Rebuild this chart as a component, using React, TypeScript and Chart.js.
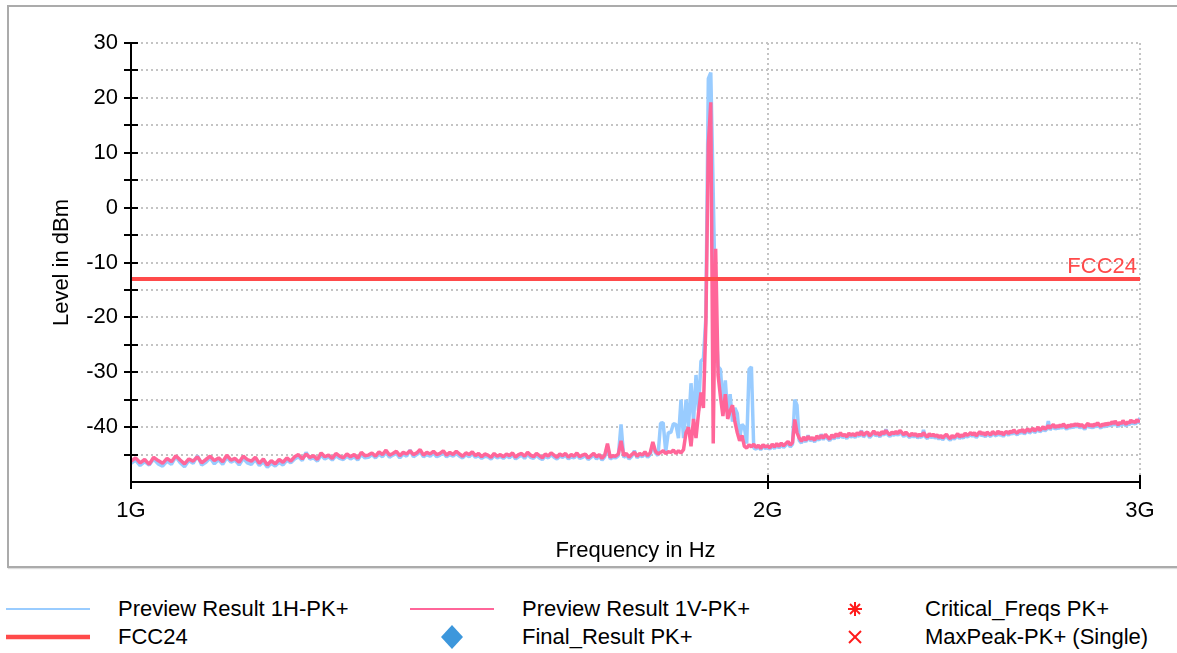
import { useEffect, useRef } from 'react';
import { Chart, registerables } from 'chart.js';

Chart.register(...registerables);

// Sweep definition (receiver sweep 1 GHz .. 3 GHz, 5 MHz step)
const sweepStartMHz = 1000;
const sweepStepMHz = 5;

// Axis ticks
const xTickValues = [1e9, 2e9, 3e9];
const xTickLabels = ['1G', '2G', '3G'];
const yLabelValues = [30, 20, 10, 0, -10, -20, -30, -40];

// Limit line
const limitName = 'FCC24';
const limitLevel = -13;
const limitFreqs = [1e9, 3e9];

// Preview Result 1V-PK+ (dBm), one value per sweep point
const preview1V = [
  -46.2,-45.6,-46.5,-45.9,-46.8,-45.5,-46.1,-46.6,-45.7,-46.3,-45.2,-46.0,-46.7,-45.8,-46.2,-45.4,-46.5,-45.9,-45.3,-46.1,
  -45.6,-46.3,-45.1,-46.0,-45.7,-46.4,-45.3,-45.9,-46.2,-45.5,-46.6,-45.8,-46.9,-46.1,-46.7,-45.9,-46.4,-45.6,-46.2,-45.4,
  -45.0,-45.8,-44.9,-45.5,-45.2,-45.9,-44.7,-45.4,-45.1,-45.7,-44.8,-45.3,-45.6,-44.9,-45.4,-45.0,-45.7,-44.6,-45.2,-45.1,
  -44.7,-45.3,-44.5,-45.0,-44.2,-45.1,-44.8,-44.4,-45.2,-44.6,-44.9,-44.3,-45.0,-44.7,-44.1,-45.1,-44.6,-44.9,-44.4,-45.0,
  -44.8,-44.3,-45.1,-44.6,-45.0,-44.4,-44.9,-45.3,-44.7,-45.0,-44.5,-45.2,-44.8,-45.4,-44.9,-45.1,-45.5,-44.8,-45.3,-45.0,
  -45.4,-44.9,-45.2,-44.7,-45.5,-45.0,-44.8,-45.3,-44.6,-45.1,-45.4,-44.8,-45.2,-45.6,-44.9,-45.3,-44.7,-45.1,-45.5,-44.9,
  -45.2,-44.8,-45.5,-45.0,-45.3,-44.7,-45.4,-45.1,-44.9,-45.6,-45.2,-44.8,-45.4,-45.0,-45.7,-45.1,-43.0,-45.5,-45.2,-45.3,
  -44.9,-42.5,-45.2,-44.8,-45.5,-45.0,-44.6,-45.3,-44.8,-45.1,-44.5,-45.2,-44.7,-42.7,-44.4,-44.9,-44.6,-44.3,-44.8,-44.5,
  -44.6,-44.2,-44.8,-44.3,-44.7,-44.1,-41.0,-40.0,-43.5,-38.5,-42.0,-37.5,-33.7,-36.5,-21.0,11.5,19.2,-43.0,-7.5,-30.5,
  -34.5,-38.0,-34.0,-38.5,-37.0,-36.0,-39.0,-41.0,-42.5,-41.5,-43.5,-43.8,-43.2,-43.6,-43.1,-43.7,-43.3,-43.9,-43.2,-43.6,
  -43.4,-43.8,-43.1,-43.6,-43.0,-43.5,-42.9,-43.4,-43.0,-42.6,-43.3,-42.8,-38.6,-41.0,-42.0,-42.6,-41.8,-42.4,-41.7,-42.2,
  -41.9,-42.4,-41.6,-42.1,-41.5,-42.0,-41.3,-41.8,-42.2,-41.4,-41.9,-41.2,-41.7,-41.0,-41.6,-41.3,-41.8,-41.1,-41.5,-41.2,
  -41.6,-41.0,-41.4,-40.8,-41.5,-41.1,-40.9,-41.6,-41.2,-40.7,-41.3,-41.0,-41.5,-40.8,-41.2,-40.6,-41.1,-41.4,-40.9,-41.2,
  -40.8,-41.2,-40.6,-41.0,-41.4,-40.9,-41.3,-41.6,-41.1,-41.5,-41.2,-41.7,-41.3,-41.6,-41.0,-41.5,-41.8,-41.2,-41.6,-41.3,
  -41.7,-41.4,-41.9,-41.5,-42.0,-41.6,-41.3,-41.8,-42.1,-41.5,-41.9,-41.6,-41.2,-41.8,-41.4,-41.7,-41.1,-41.5,-41.3,-41.0,
  -41.4,-41.0,-41.6,-41.2,-40.8,-41.3,-41.0,-41.5,-40.9,-41.2,-41.4,-40.8,-41.1,-41.3,-40.7,-41.2,-40.9,-41.4,-41.0,-40.8,
  -41.2,-40.7,-41.0,-40.5,-40.9,-41.1,-40.6,-40.8,-40.4,-41.0,-40.6,-40.3,-40.8,-40.5,-40.2,-40.7,-40.4,-40.0,-40.6,-40.3,
  -39.9,-40.4,-40.1,-39.7,-40.2,-39.8,-39.5,-40.1,-39.7,-40.0,-39.6,-39.9,-39.4,-39.8,-40.1,-39.6,-39.9,-39.5,-39.8,-39.4,
  -39.7,-39.4,-39.9,-39.5,-39.8,-40.1,-39.6,-39.3,-39.8,-39.5,-39.9,-39.4,-39.7,-39.2,-39.6,-39.9,-39.4,-39.7,-39.3,-39.6,
  -39.2,-39.5,-39.0,-39.4,-38.9,-39.3,-39.6,-39.1,-39.4,-38.8,-39.2,-39.5,-39.0,-39.3,-38.7,-39.1,-38.9,-39.2,-38.6,-39.0,
  -38.7,
];

// Preview Result 1H-PK+ (dBm), one value per sweep point
const preview1H = [
  -46.6,-46.0,-47.0,-46.3,-46.9,-45.8,-46.7,-47.1,-46.2,-46.8,-45.4,-46.5,-47.2,-46.1,-46.6,-45.2,-46.9,-46.4,-45.6,-46.7,
  -45.9,-46.8,-45.5,-46.4,-46.0,-46.9,-45.7,-46.5,-46.8,-45.9,-47.0,-46.3,-47.3,-46.6,-47.1,-46.4,-46.9,-46.0,-46.5,-45.8,
  -45.4,-46.1,-44.6,-45.8,-45.6,-46.2,-45.1,-45.8,-45.4,-46.0,-45.2,-45.7,-45.9,-45.3,-45.8,-45.4,-46.0,-45.0,-45.6,-45.5,
  -45.0,-45.6,-44.9,-45.4,-44.6,-45.5,-45.1,-44.8,-45.6,-44.9,-45.3,-44.2,-45.4,-45.0,-44.5,-45.4,-45.0,-45.3,-44.7,-45.4,
  -45.1,-44.7,-45.4,-45.0,-45.3,-44.8,-45.3,-45.6,-45.0,-45.4,-44.8,-45.5,-45.2,-45.7,-45.3,-45.4,-45.8,-45.2,-45.6,-45.3,
  -45.7,-45.2,-45.6,-45.0,-45.8,-45.4,-45.1,-45.7,-44.9,-45.5,-45.7,-45.1,-45.6,-45.9,-45.3,-45.6,-45.0,-45.5,-45.8,-45.3,
  -45.5,-45.1,-45.8,-45.4,-45.6,-45.0,-45.7,-45.5,-45.2,-45.9,-45.5,-45.1,-45.8,-45.3,-46.0,-45.4,-43.5,-45.8,-45.5,-45.6,
  -45.2,-39.5,-45.5,-45.1,-45.8,-45.3,-44.3,-45.6,-45.1,-45.4,-44.8,-45.5,-45.0,-43.0,-44.7,-45.2,-39.3,-39.2,-44.5,-41.0,
  -41.0,-39.4,-39.5,-42.0,-35.0,-42.0,-35.0,-40.0,-32.0,-39.0,-30.5,-37.0,-28.0,-27.5,-20.0,23.5,24.6,2.6,-20.0,-29.0,
  -29.5,-36.0,-31.5,-38.0,-34.0,-39.0,-36.5,-37.5,-42.0,-39.5,-40.0,-43.0,-29.5,-29.0,-43.8,-44.0,-43.6,-44.1,-43.5,-43.9,
  -43.7,-44.0,-43.4,-43.9,-43.3,-43.8,-43.2,-43.7,-43.3,-42.9,-43.6,-43.1,-35.0,-36.0,-42.4,-42.9,-42.1,-42.7,-41.5,-42.5,
  -42.2,-42.7,-41.9,-42.4,-41.3,-42.3,-41.6,-42.1,-42.5,-41.7,-42.2,-41.5,-42.0,-41.3,-41.9,-41.6,-42.1,-41.4,-41.8,-41.5,
  -41.9,-41.3,-41.7,-40.6,-41.8,-41.4,-41.2,-41.9,-41.5,-41.0,-41.6,-41.3,-41.8,-41.1,-41.5,-40.4,-41.4,-41.7,-41.2,-41.5,
  -41.1,-41.5,-40.9,-41.3,-41.7,-41.2,-41.6,-41.9,-41.4,-41.8,-41.5,-42.0,-41.6,-41.9,-40.5,-41.8,-42.1,-41.5,-41.9,-41.6,
  -42.0,-41.7,-42.2,-41.8,-42.3,-41.9,-41.6,-42.1,-42.4,-41.8,-42.2,-41.9,-41.5,-42.1,-41.7,-42.0,-41.4,-41.8,-41.6,-41.3,
  -41.7,-41.3,-41.9,-41.5,-41.1,-41.6,-41.3,-41.8,-41.2,-41.5,-41.7,-41.1,-41.4,-41.6,-41.0,-41.5,-41.2,-41.7,-41.3,-41.1,
  -41.5,-41.0,-41.3,-40.8,-41.2,-41.4,-40.9,-41.1,-40.7,-41.3,-40.9,-40.6,-41.1,-40.8,-40.5,-41.0,-40.7,-40.3,-40.9,-40.6,
  -40.2,-40.7,-40.4,-38.9,-40.5,-40.1,-39.8,-40.4,-40.0,-40.3,-39.9,-40.2,-39.7,-40.1,-40.4,-39.9,-40.2,-39.8,-40.1,-39.7,
  -40.0,-39.7,-40.2,-39.8,-40.1,-40.4,-39.9,-39.6,-40.1,-39.8,-40.2,-39.7,-40.0,-39.5,-39.9,-40.2,-39.7,-40.0,-39.6,-39.9,
  -39.5,-39.8,-39.3,-39.7,-39.2,-39.6,-39.9,-39.4,-39.7,-39.1,-39.5,-39.8,-39.3,-39.6,-39.0,-39.4,-39.2,-39.5,-38.9,-39.3,
  -38.3,
];

// Marker series (no points in this plot)
const criticalFreqs: { x: number; y: number }[] = [];
const finalResult: { x: number; y: number }[] = [];
const maxPeak: { x: number; y: number }[] = [];

const FONT = '"Liberation Sans", Arial, Helvetica, sans-serif';
const C_BLUE = '#99ccff';
const C_PINK = '#ff6699';
const C_LIMIT = '#ff4a4a';
const C_GRID = '#c4c4c4';

const freqHz = preview1V.map((_, i) => (sweepStartMHz + i * sweepStepMHz) * 1e6);

const axesPlugin = {
  id: 'emcAxes',
  afterDatasetsDraw(chart: any) {
    const { ctx, chartArea, scales } = chart;
    const { left, right, top, bottom } = chartArea;
    const xs = scales.x;
    const ys = scales.y;
    ctx.save();
    ctx.strokeStyle = '#000';
    ctx.lineWidth = 2;
    ctx.beginPath();
    ctx.moveTo(left, top - 1);
    ctx.lineTo(left, bottom + 7);
    ctx.moveTo(left - 1, bottom);
    ctx.lineTo(right + 1, bottom);
    ys.ticks.forEach((t: any) => {
      if (t.value <= ys.min) return;
      const py = Math.round(ys.getPixelForValue(t.value));
      ctx.moveTo(left - 7, py);
      ctx.lineTo(left + 7, py);
    });
    xs.ticks.forEach((t: any) => {
      const px = Math.round(xs.getPixelForValue(t.value));
      ctx.moveTo(px, bottom - 7);
      ctx.lineTo(px, bottom + 7);
    });
    ctx.stroke();
    // limit line name
    ctx.fillStyle = C_LIMIT;
    ctx.font = `22px ${FONT}`;
    ctx.textAlign = 'right';
    ctx.textBaseline = 'alphabetic';
    ctx.fillText(limitName, right - 3, ys.getPixelForValue(limitLevel) - 6);
    ctx.restore();
  },
};

function LegendMarker({ kind, color }: { kind: string; color: string }) {
  if (kind === 'line' || kind === 'thick') {
    return (
      <svg width="84" height="10" style={{ display: 'block' }}>
        <line x1="0" y1="5" x2="84" y2="5" stroke={color} strokeWidth={kind === 'thick' ? 4.5 : 2} />
      </svg>
    );
  }
  if (kind === 'diamond') {
    return (
      <svg width="24" height="26" style={{ display: 'block' }}>
        <polygon points="12,1 23,13 12,25 1,13" fill={color} />
      </svg>
    );
  }
  if (kind === 'star') {
    return (
      <svg width="16" height="16" style={{ display: 'block' }}>
        <g stroke={color} strokeWidth="2">
          <line x1="8" y1="1" x2="8" y2="15" />
          <line x1="1" y1="8" x2="15" y2="8" />
          <line x1="3" y1="3" x2="13" y2="13" />
          <line x1="13" y1="3" x2="3" y2="13" />
        </g>
      </svg>
    );
  }
  return (
    <svg width="16" height="16" style={{ display: 'block' }}>
      <g stroke={color} strokeWidth="2">
        <line x1="2" y1="2" x2="14" y2="14" />
        <line x1="14" y1="2" x2="2" y2="14" />
      </g>
    </svg>
  );
}

const legendItems = [
  { label: 'Preview Result 1H-PK+', kind: 'line', color: C_BLUE, mx: 6, my: 609, tx: 118, ty: 609 },
  { label: 'Preview Result 1V-PK+', kind: 'line', color: C_PINK, mx: 410, my: 609, tx: 522, ty: 609 },
  { label: 'Critical_Freqs PK+', kind: 'star', color: '#ff1a1a', mx: 847, my: 609, tx: 925, ty: 609 },
  { label: 'FCC24', kind: 'thick', color: C_LIMIT, mx: 6, my: 637, tx: 118, ty: 637 },
  { label: 'Final_Result PK+', kind: 'diamond', color: '#3d97dc', mx: 440, my: 637, tx: 522, ty: 637 },
  { label: 'MaxPeak-PK+ (Single)', kind: 'cross', color: '#ff1a1a', mx: 847, my: 637, tx: 925, ty: 637 },
];

export default function App() {
  const canvasRef = useRef<HTMLCanvasElement | null>(null);

  useEffect(() => {
    document.body.style.margin = '0';
    const canvas = canvasRef.current;
    if (!canvas) return;
    const chart = new Chart(canvas, {
      type: 'line',
      data: {
        datasets: [
          {
            label: limitName,
            data: limitFreqs.map((f) => ({ x: f, y: limitLevel })),
            borderColor: C_LIMIT,
            borderWidth: 4,
            pointRadius: 0,
          },
          {
            label: 'Preview Result 1V-PK+',
            data: freqHz.map((f, i) => ({ x: f, y: preview1V[i] })),
            borderColor: C_PINK,
            borderWidth: 3.5,
            pointRadius: 0,
          },
          {
            label: 'Preview Result 1H-PK+',
            data: freqHz.map((f, i) => ({ x: f, y: preview1H[i] })),
            borderColor: C_BLUE,
            borderWidth: 3.5,
            pointRadius: 0,
          },
          { label: 'Critical_Freqs PK+', data: criticalFreqs, showLine: false, pointStyle: 'star', borderColor: '#ff1a1a' },
          { label: 'Final_Result PK+', data: finalResult, showLine: false, pointStyle: 'rectRot', backgroundColor: '#3d97dc' },
          { label: 'MaxPeak-PK+ (Single)', data: maxPeak, showLine: false, pointStyle: 'crossRot', borderColor: '#ff1a1a' },
        ],
      } as any,
      options: {
        animation: false,
        responsive: false,
        maintainAspectRatio: false,
        devicePixelRatio: 1,
        parsing: false as any,
        normalized: true,
        events: [],
        layout: { padding: { left: 0, right: 37, top: 36, bottom: 0 } },
        plugins: { legend: { display: false }, tooltip: { enabled: false } },
        elements: { line: { tension: 0, borderJoinStyle: 'bevel' } },
        scales: {
          x: {
            type: 'logarithmic',
            min: 1e9,
            max: 3e9,
            afterBuildTicks: (s: any) => {
              s.ticks = xTickValues.map((v) => ({ value: v }));
            },
            afterFit: (s: any) => {
              s.height = 83;
            },
            ticks: {
              autoSkip: false,
              maxRotation: 0,
              padding: 16,
              color: '#000',
              font: { family: FONT, size: 22 },
              callback: (_v: any, i: number) => xTickLabels[i],
            },
            grid: { color: C_GRID, lineWidth: 2, drawTicks: false },
            border: { display: false, dash: [2, 3] },
            title: {
              display: true,
              text: 'Frequency in Hz',
              color: '#000',
              font: { family: FONT, size: 22 },
              padding: { top: 0, bottom: 1 },
            },
          },
          y: {
            type: 'linear',
            min: -50,
            max: 30,
            afterFit: (s: any) => {
              s.width = 123;
            },
            ticks: {
              stepSize: 5,
              autoSkip: false,
              padding: 13,
              color: '#000',
              font: { family: FONT, size: 22 },
              callback: (v: any) => (yLabelValues.includes(Number(v)) ? String(v) : ''),
            },
            grid: { color: C_GRID, lineWidth: 2, drawTicks: false },
            border: { display: false, dash: [2, 3] },
            title: {
              display: true,
              text: 'Level in dBm',
              color: '#000',
              font: { family: FONT, size: 22 },
              padding: { top: 41, bottom: 0 },
            },
          },
        },
      } as any,
      plugins: [axesPlugin],
    });
    return () => chart.destroy();
  }, []);

  return (
    <div style={{ position: 'fixed', left: 0, top: 0, width: 1177, height: 653, background: '#fff', overflow: 'hidden', fontFamily: FONT }}>
      <div
        style={{
          position: 'absolute',
          left: 7,
          top: 5,
          width: 1190,
          height: 559,
          border: '2px solid #ababab',
          boxShadow: '1px 1px 1px #dcdcdc',
        }}
      />
      <canvas ref={canvasRef} width={1169} height={558} style={{ position: 'absolute', left: 8, top: 7, width: 1169, height: 558 }} />
      {legendItems.map((it) => (
        <div key={it.label}>
          <div
            style={{
              position: 'absolute',
              left: it.mx,
              top: it.my,
              transform: 'translateY(-50%)',
            }}
          >
            <LegendMarker kind={it.kind} color={it.color} />
          </div>
          <div
            style={{
              position: 'absolute',
              left: it.tx,
              top: it.ty - 12,
              height: 24,
              lineHeight: '24px',
              fontSize: 22,
              color: '#000',
              whiteSpace: 'nowrap',
            }}
          >
            {it.label}
          </div>
        </div>
      ))}
    </div>
  );
}
